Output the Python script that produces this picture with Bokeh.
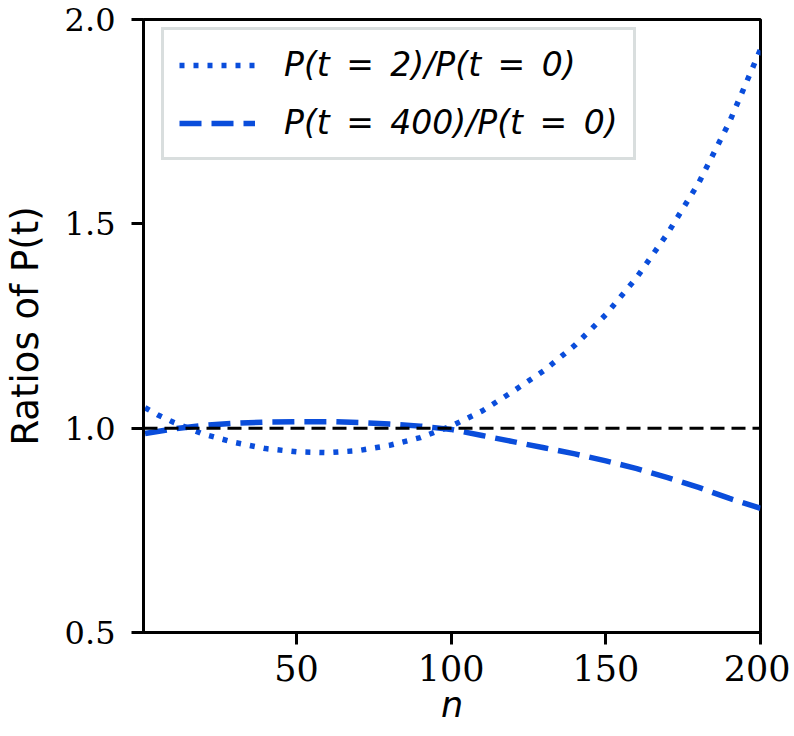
from bokeh.plotting import figure
from bokeh.models import Range1d, Span, Legend, LegendItem, FixedTicker
from bokeh.embed import file_html
from bokeh.resources import INLINE

# data
n_vals = [1, 5, 10, 20, 30, 40, 50, 60, 70, 80, 90, 100, 110, 120, 130, 140,
          150, 160, 170, 180, 190, 200]
ratio_t2 = [1.050, 1.033, 1.015, 0.985, 0.965, 0.950, 0.942, 0.940, 0.945, 0.958,
            0.977, 1.005, 1.042, 1.090, 1.141, 1.203, 1.278, 1.369, 1.477, 1.600,
            1.750, 1.927]
ratio_t400 = [0.987, 0.992, 0.998, 1.007, 1.012, 1.015, 1.016, 1.016, 1.014, 1.010,
              1.005, 0.997, 0.982, 0.967, 0.952, 0.937, 0.920, 0.901, 0.879, 0.855,
              0.828, 0.804]
label_t2 = "P(t\u2002=\u20022)/P(t\u2002=\u20020)"
label_t400 = "P(t\u2002=\u2002400)/P(t\u2002=\u20020)"
x_ticks = [50, 100, 150, 200]
y_ticks = [0.5, 1.0, 1.5, 2.0]
reference_level = 1.0

BLUE = "#0a4ddb"

p = figure(width=790, height=736, output_backend="svg", toolbar_location=None,
           x_range=Range1d(0.5, 200), y_range=Range1d(0.5, 2.0),
           min_border_left=137, min_border_right=30, min_border_top=19,
           min_border_bottom=104)
p.xgrid.visible = False
p.ygrid.visible = False
p.outline_line_color = "black"
p.outline_line_width = 3
p.outline_line_alpha = 1

r1 = p.line(n_vals, ratio_t2, line_color=BLUE, line_width=5.5, line_dash="5 9")
r2 = p.line(n_vals, ratio_t400, line_color=BLUE, line_width=5.5, line_dash="22 10")

span = Span(location=reference_level, dimension="width", line_color="black",
            line_width=3, line_dash="14 7")
p.add_layout(span)

for ax in (p.xaxis[0], p.yaxis[0]):
    ax.axis_line_width = 3
    ax.major_tick_line_width = 3
    ax.major_tick_out = 12
    ax.major_tick_in = 0
    ax.minor_tick_out = 0
    ax.minor_tick_in = 0
    ax.major_label_text_font = "DejaVu Serif"
    ax.major_label_text_color = "black"
    ax.axis_label_text_font = "DejaVu Sans"
    ax.axis_label_text_color = "black"

p.xaxis[0].ticker = FixedTicker(ticks=x_ticks)
p.yaxis[0].ticker = FixedTicker(ticks=y_ticks)
p.yaxis[0].major_label_overrides = {v: f"{v:.1f}" for v in y_ticks}
p.xaxis[0].major_label_text_font_size = "35px"
p.yaxis[0].major_label_text_font_size = "32px"
p.xaxis[0].major_label_standoff = 10
p.yaxis[0].major_label_standoff = 16

p.xaxis[0].axis_label = "n"
p.xaxis[0].axis_label_text_font_size = "35px"
p.xaxis[0].axis_label_text_font_style = "italic"
p.xaxis[0].axis_label_standoff = 1
p.yaxis[0].axis_label = "Ratios of P(t)"
p.yaxis[0].axis_label_text_font_size = "37px"
p.yaxis[0].axis_label_text_font_style = "normal"
p.yaxis[0].axis_label_standoff = 15

legend = Legend(items=[LegendItem(label=label_t2, renderers=[r1]),
                       LegendItem(label=label_t400, renderers=[r2])],
                location=(18, 472))
legend.label_text_font = "DejaVu Sans"
legend.label_text_font_size = "33px"
legend.label_text_font_style = "italic"
legend.label_text_color = "black"
legend.glyph_width = 76
legend.glyph_height = 36
legend.label_height = 36
legend.spacing = 19
legend.padding = 15
legend.label_standoff = 29
legend.margin = 0
legend.border_line_color = "#b4bebe"
legend.border_line_width = 3
legend.background_fill_color = "white"
legend.background_fill_alpha = 1
p.add_layout(legend)

open("out.html", "w").write(file_html(p, INLINE))
